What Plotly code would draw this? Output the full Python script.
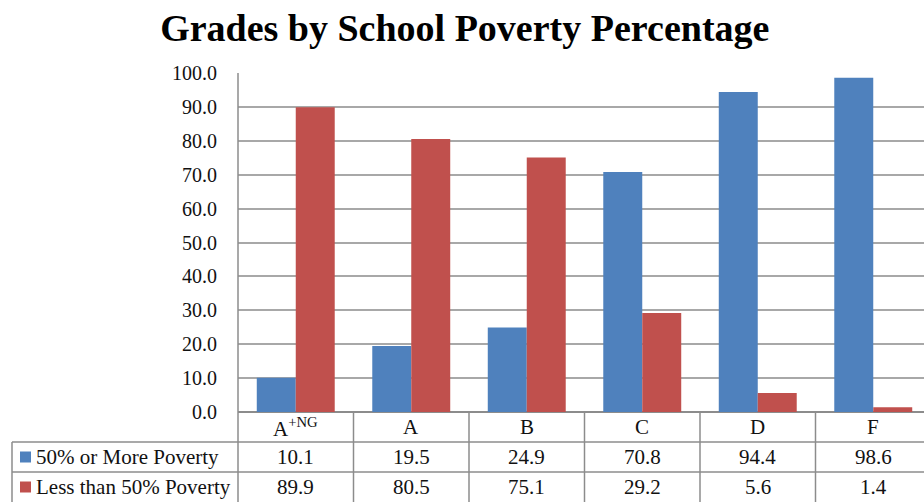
import plotly.graph_objects as go

categories = ["A<sup>+NG</sup>", "A", "B", "C", "D", "F"]
series_names = ["50% or More Poverty", "Less than 50% Poverty"]
high_poverty = [10.1, 19.5, 24.9, 70.8, 94.4, 98.6]
low_poverty = [89.9, 80.5, 75.1, 29.2, 5.6, 1.4]
y_ticks = [0, 10, 20, 30, 40, 50, 60, 70, 80, 90, 100]

BLUE = "#4F81BD"
RED = "#C0504D"
GRID = "#A8A8A8"
LINE = "#8C8C8C"
FONT = "'Liberation Serif', 'Times New Roman', serif"

W, H = 924, 502
PL, PR, PT, PB = 238, 924, 73, 412


def px(p):
    return (p - PL) / (PR - PL)


def py(p):
    return (PB - p) / (PB - PT)


fig = go.Figure()
fig.add_trace(go.Bar(x=categories, y=high_poverty, name=series_names[0],
                     marker=dict(color=BLUE, line=dict(width=0))))
fig.add_trace(go.Bar(x=categories, y=low_poverty, name=series_names[1],
                     marker=dict(color=RED, line=dict(width=0))))

n = len(categories)
shapes = []
# y axis line extended through table
shapes.append(dict(type="line", xref="paper", yref="paper", x0=0, x1=0,
                   y0=py(PT), y1=py(H + 5), line=dict(color=LINE, width=1.5)))
# column separators
for i in range(n):
    xb = i + 0.5
    shapes.append(dict(type="line", xref="x", yref="paper", x0=xb, x1=xb,
                       y0=py(PB), y1=py(H + 5), line=dict(color=LINE, width=1.5)))
# horizontal table lines
for yline in [442, 472]:
    shapes.append(dict(type="line", xref="paper", yref="paper", x0=px(12), x1=1.0,
                       y0=py(yline), y1=py(yline), line=dict(color=LINE, width=1.5)))
# left border of label column
shapes.append(dict(type="line", xref="paper", yref="paper", x0=px(12), x1=px(12),
                   y0=py(442), y1=py(H + 5), line=dict(color=LINE, width=1.5)))
# legend squares
for color, yc in [(BLUE, 457), (RED, 487)]:
    shapes.append(dict(type="rect", xref="paper", yref="paper",
                       x0=px(20), x1=px(31), y0=py(yc - 5.5), y1=py(yc + 5.5),
                       fillcolor=color, line=dict(width=0)))

TFONT = dict(family=FONT, size=21, color="#111")
annotations = []
for i, cat in enumerate(categories):
    annotations.append(dict(x=i, xref="x", y=py(427), yref="paper", text=cat,
                            showarrow=False, font=TFONT,
                            xanchor="center", yanchor="middle"))
    annotations.append(dict(x=i, xref="x", y=py(457), yref="paper",
                            text=f"{high_poverty[i]:.1f}", showarrow=False,
                            font=TFONT, xanchor="center", yanchor="middle"))
    annotations.append(dict(x=i, xref="x", y=py(487), yref="paper",
                            text=f"{low_poverty[i]:.1f}", showarrow=False,
                            font=TFONT, xanchor="center", yanchor="middle"))
for name, yc in zip(series_names, [457, 487]):
    annotations.append(dict(x=px(34), xref="paper", y=py(yc), yref="paper", text=name,
                            showarrow=False, font=TFONT,
                            xanchor="left", yanchor="middle"))

fig.update_layout(
    width=W, height=H,
    margin=dict(l=PL, r=W - PR, t=PT, b=H - PB, pad=0),
    paper_bgcolor="white", plot_bgcolor="white",
    barmode="group", bargap=0.325, bargroupgap=0,
    showlegend=False,
    title=dict(text="<b>Grades by School Poverty Percentage</b>",
               x=0.503, xanchor="center", y=1 - 28 / H, yanchor="middle",
               font=dict(family=FONT, size=38, color="#000")),
    xaxis=dict(range=[-0.5, (PR - PL) / 115.5 - 0.5], showticklabels=False,
               showgrid=False, zeroline=False, showline=False, ticks=""),
    yaxis=dict(range=[0, 100], tickvals=y_ticks,
               ticktext=[f"{v:.1f}" for v in y_ticks],
               showgrid=True, gridcolor=GRID, gridwidth=1.5,
               zeroline=True, zerolinecolor=LINE, zerolinewidth=1.5,
               showline=False, ticks="", ticklabelstandoff=20,
               tickfont=dict(family=FONT, size=20, color="#111")),
    shapes=shapes,
    annotations=annotations,
)

fig.write_html("out.html")
